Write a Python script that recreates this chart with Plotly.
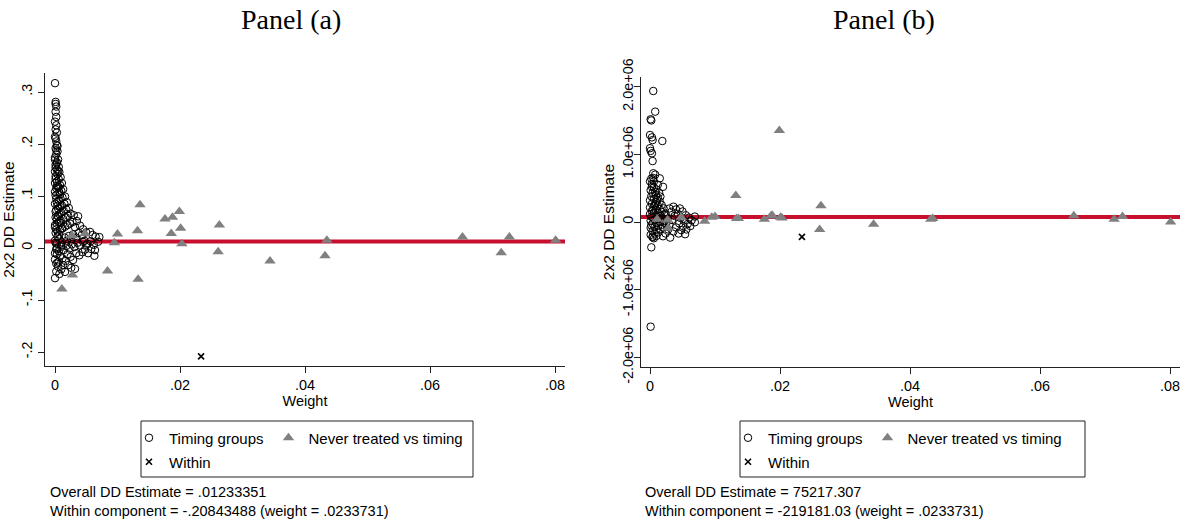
import plotly.graph_objects as go

# ---------------- data ----------------
# Panel (a): timing-group comparisons (weight, 2x2 estimate)
timing_w_a = [
    0.0000, 0.0001, 0.0001, 0.0002, 0.0001, 0.0002, 0.0000, 0.0002, 0.0001, 0.0003,
    0.0000, 0.0002, 0.0003, 0.0001, 0.0004, 0.0002, 0.0000, 0.0005, 0.0003, 0.0001,
    0.0006, 0.0003, 0.0000, 0.0007, 0.0004, 0.0001, 0.0009, 0.0006, 0.0003, 0.0000,
    0.0011, 0.0008, 0.0005, 0.0002, 0.0013, 0.0010, 0.0007, 0.0004, 0.0001, 0.0016,
    0.0012, 0.0009, 0.0006, 0.0003, 0.0000, 0.0019, 0.0015, 0.0011, 0.0008, 0.0005,
    0.0002, 0.0022, 0.0018, 0.0014, 0.0010, 0.0007, 0.0004, 0.0001, 0.0025, 0.0030,
    0.0037, 0.0035, 0.0021, 0.0017, 0.0013, 0.0009, 0.0006, 0.0003, 0.0000, 0.0028,
    0.0024, 0.0020, 0.0016, 0.0012, 0.0008, 0.0004, 0.0001, 0.0032, 0.0040, 0.0045,
    0.0050, 0.0056, 0.0060, 0.0065, 0.0071, 0.0069, 0.0043, 0.0038, 0.0034, 0.0029,
    0.0026, 0.0022, 0.0019, 0.0015, 0.0011, 0.0007, 0.0003, 0.0000, 0.0047, 0.0052,
    0.0057, 0.0062, 0.0045, 0.0050, 0.0040, 0.0036, 0.0031, 0.0027, 0.0023, 0.0018,
    0.0014, 0.0010, 0.0006, 0.0002, 0.0064, 0.0063, 0.0053, 0.0058, 0.0048, 0.0044,
    0.0039, 0.0034, 0.0029, 0.0032, 0.0025, 0.0020, 0.0016, 0.0017, 0.0012, 0.0008,
    0.0004, 0.0000, 0.0005, 0.0021, 0.0026, 0.0010, 0.0002, 0.0007, 0.0013, 0.0000,
    0.0003, 0.0001, 0.0003, 0.0000, 0.0002, 0.0004, 0.0001, 0.0003, 0.0000, 0.0002,
    0.0004, 0.0001, 0.0003, 0.0000, 0.0002, 0.0005, 0.0001, 0.0003, 0.0000, 0.0002,
    0.0004, 0.0001, 0.0006, 0.0008, 0.0005, 0.0009, 0.0007, 0.0011, 0.0006, 0.0010,
]
timing_est_a = [
    0.317, 0.281, 0.277, 0.272, 0.262, 0.252, 0.243, 0.236, 0.228, 0.222,
    0.214, 0.205, 0.198, 0.192, 0.186, 0.180, 0.174, 0.170, 0.165, 0.160,
    0.156, 0.151, 0.147, 0.146, 0.142, 0.138, 0.136, 0.132, 0.128, 0.125,
    0.125, 0.121, 0.118, 0.115, 0.113, 0.110, 0.107, 0.104, 0.101, 0.099,
    0.097, 0.094, 0.091, 0.088, 0.085, 0.088, 0.085, 0.082, 0.079, 0.076,
    0.073, 0.077, 0.074, 0.071, 0.068, 0.065, 0.062, 0.059, 0.066, 0.063,
    0.061, 0.052, 0.062, 0.059, 0.056, 0.053, 0.050, 0.047, 0.044, 0.050,
    0.047, 0.044, 0.041, 0.038, 0.035, 0.032, 0.029, 0.040, 0.043, 0.036,
    0.030, 0.031, 0.025, 0.022, 0.021, 0.012, 0.025, 0.029, 0.020, 0.026,
    0.017, 0.023, 0.014, 0.020, 0.011, 0.017, 0.008, 0.014, 0.014, 0.008,
    0.013, 0.006, 0.012, 0.006, 0.005, 0.010, 0.002, 0.007, -0.001, 0.004,
    -0.004, 0.002, -0.006, -0.002, -0.004, -0.015, -0.010, -0.002, -0.003, -0.008,
    -0.014, -0.010, -0.023, -0.040, -0.017, -0.012, -0.046, -0.025, -0.020, -0.015,
    -0.028, -0.058, -0.036, -0.033, -0.038, -0.041, -0.045, -0.050, -0.033, -0.022,
    -0.012, 0.133, 0.119, 0.108, 0.095, 0.081, 0.070, 0.055, 0.040, 0.036,
    0.022, 0.010, 0.000, -0.010, -0.030, 0.148, 0.155, 0.163, 0.170, 0.188,
    0.196, 0.211, 0.117, 0.103, 0.061, 0.048, 0.026, 0.037, -0.026, 0.005,
]

# Panel (b): timing-group comparisons (weight, 2x2 estimate)
timing_w_b = [
    0.0005, 0.0008, 0.0001, 0.0002, 0.0000, 0.0004, 0.0019, 0.0003, 0.0000, 0.0003,
    0.0004, 0.0001, 0.0005, 0.0008, 0.0015, 0.0020, 0.0016, 0.0012, 0.0002, 0.0006,
    0.0010, 0.0003, 0.0014, 0.0008, 0.0005,
    0.0000, 0.0003, 0.0006, 0.0001, 0.0004, 0.0009, 0.0002, 0.0012, 0.0006, 0.0000,
    0.0015, 0.0009, 0.0003, 0.0018, 0.0012, 0.0006, 0.0000, 0.0021, 0.0015, 0.0009,
    0.0003, 0.0018, 0.0012, 0.0006, 0.0000, 0.0022, 0.0016, 0.0010, 0.0004, 0.0019,
    0.0013, 0.0007, 0.0001, 0.0022, 0.0016, 0.0010, 0.0004, 0.0019, 0.0013, 0.0007,
    0.0001, 0.0016, 0.0010, 0.0004, 0.0013, 0.0007, 0.0001, 0.0010, 0.0004, 0.0006,
    0.0002, 0.0005, 0.0008, 0.0002, 0.0011, 0.0014, 0.0020, 0.0024, 0.0025, 0.0027,
    0.0030, 0.0036, 0.0040, 0.0046, 0.0033, 0.0050, 0.0043, 0.0055, 0.0038, 0.0060,
    0.0069, 0.0047, 0.0064, 0.0034, 0.0052, 0.0069, 0.0058, 0.0045, 0.0030, 0.0051,
    0.0062, 0.0040, 0.0056, 0.0028, 0.0048, 0.0054, 0.0044, 0.0036, 0.0031, 0.0024,
    0.0020, 0.0004, 0.0002, 0.0001,
]
timing_est_b = [
    1935000, 1630000, 1517000, 1500000, 1285000, 1210000, 1196000, 1250000, 1090000, 1015000,
    900000, 1050000, 720000, 700000, 645000, 520000, 375000, 550000, 640000, 600000,
    480000, 520000, 430000, 440000, 650000,
    600000, 560000, 510000, 470000, 430000, 400000, 380000, 360000, 340000, 320000,
    300000, 290000, 270000, 250000, 240000, 230000, 215000, 200000, 190000, 180000,
    165000, 150000, 140000, 130000, 115000, 100000, 95000, 85000, 70000, 55000,
    45000, 35000, 20000, 10000, 0, -10000, -25000, -40000, -55000, -70000,
    -85000, -100000, -115000, -130000, -150000, -170000, -190000, -205000, -215000, -240000,
    80000, 180000, 260000, -50000, 320000, 90000, -80000, 120000, -20000, 50000,
    200000, 226000, 185000, 200000, 150000, 155000, 120000, 100000, 90000, 65000,
    80000, 60000, 25000, 30000, 20000, -4000, -30000, -20000, -40000, -60000,
    -60000, -80000, -110000, -110000, -120000, -180000, -170000, -140000, -230000, -170000,
    -210000, -226000, -374000, -1546000,
]

# Never treated vs timing (same weights in both panels)
never_w = [
    0.0011, 0.0027, 0.0028, 0.0048, 0.0084, 0.0095, 0.0100, 0.0132, 0.0133, 0.0136,
    0.0176, 0.0186, 0.0188, 0.0199, 0.0201, 0.0203, 0.0261, 0.0263, 0.0344, 0.0432,
    0.0435, 0.0652, 0.0714, 0.0727, 0.0801,
]
never_est_a = [
    -0.079, 0.024, -0.052, 0.028, -0.044, 0.010, 0.027, 0.033, -0.060, 0.083,
    0.056, 0.028, 0.059, 0.070, 0.038, 0.008, -0.007, 0.044, -0.025, -0.015,
    0.015, 0.021, -0.009, 0.021, 0.015,
]
never_est_b = [
    40000, 30000, -90000, 70000, 10000, 70000, 80000, 390000, 50000, 50000,
    40000, 90000, 100000, 1350000, 70000, 60000, -110000, 240000, -35000, 40000,
    50000, 94000, 40000, 80000, 0,
]

# Within component and overall estimates
within_w = 0.0233731
within_est_a = -0.20843488
within_est_b = -219181.03
overall_a = 0.01233351
overall_b = 75217.307

# Tick labels
x_ticks = [0, 0.02, 0.04, 0.06, 0.08]
x_ticktext = ["0", ".02", ".04", ".06", ".08"]
ya_ticks = [-0.2, -0.1, 0, 0.1, 0.2, 0.3]
ya_ticktext = ["-.2", "-.1", "0", ".1", ".2", ".3"]
yb_ticks = [-2e6, -1e6, 0, 1e6, 2e6]
yb_ticktext = ["-2.0e+06", "-1.0e+06", "0", "1.0e+06", "2.0e+06"]

labels = ["Timing groups", "Never treated vs timing", "Within"]
panel_titles = ["Panel (a)", "Panel (b)"]


def sfmt(v):
    s = repr(v)
    if s.startswith("0."):
        s = s[1:]
    elif s.startswith("-0."):
        s = "-" + s[2:]
    return s


# ---------------- figure ----------------
W, H = 1182, 520
SANS = "Liberation Sans, Arial, sans-serif"
SERIF = "Liberation Serif, Times New Roman, serif"
RED = "#C8102E"
GRAY = "#808080"


def px_x(p):
    return p / W


def px_y(p):
    return 1 - p / H


fig = go.Figure()

panels = [
    dict(xa="x", ya="y", tw=timing_w_a, te=timing_est_a, ne=never_est_a, we=within_est_a,
         lg1="legend", lg2="legend2"),
    dict(xa="x2", ya="y2", tw=timing_w_b, te=timing_est_b, ne=never_est_b, we=within_est_b,
         lg1="legend3", lg2="legend4"),
]

for p in panels:
    fig.add_trace(go.Scatter(
        x=p["tw"], y=p["te"], mode="markers", name=labels[0],
        xaxis=p["xa"], yaxis=p["ya"], legend=p["lg1"], showlegend=True,
        marker=dict(symbol="circle-open", size=7.5, color="black", line=dict(width=1, color="black")),
    ))
    fig.add_trace(go.Scatter(
        x=never_w, y=p["ne"], mode="markers", name=labels[1],
        xaxis=p["xa"], yaxis=p["ya"], legend=p["lg1"], showlegend=True,
        marker=dict(symbol="triangle-up", size=10, color=GRAY, line=dict(width=0)),
    ))
    fig.add_trace(go.Scatter(
        x=[within_w], y=[p["we"]], mode="markers", name=labels[2],
        xaxis=p["xa"], yaxis=p["ya"], legend=p["lg2"], showlegend=True,
        marker=dict(symbol="x-thin", size=6, color="black", line=dict(width=1.6, color="black")),
    ))

axis_common = dict(
    showline=True, linecolor="#222", linewidth=1, mirror=False, automargin=False,
    showgrid=False, zeroline=False, ticks="outside", ticklen=6, tickcolor="#222",
    tickfont=dict(family=SANS, size=14.4, color="black"),
)

fig.update_layout(
    width=W, height=H,
    margin=dict(l=0, r=0, t=0, b=0, pad=0, autoexpand=False),
    plot_bgcolor="white", paper_bgcolor="white",
    xaxis=dict(domain=[px_x(45), px_x(565)], range=[-0.0016, 0.0816],
               tickvals=x_ticks, ticktext=x_ticktext, anchor="y",
               title=dict(text="Weight", font=dict(family=SANS, size=14.5, color="black"), standoff=3),
               **axis_common),
    yaxis=dict(domain=[px_y(366), px_y(73)], range=[-0.22692, 0.33654],
               tickvals=ya_ticks, ticktext=ya_ticktext, tickangle=-90, anchor="x",
               title=dict(text="2x2 DD Estimate", font=dict(family=SANS, size=15.5, color="black"), standoff=3),
               **axis_common),
    xaxis2=dict(domain=[px_x(641), px_x(1180)], range=[-0.001385, 0.081538],
                tickvals=x_ticks, ticktext=x_ticktext, anchor="y2",
                title=dict(text="Weight", font=dict(family=SANS, size=14.5, color="black"), standoff=3),
                **axis_common),
    yaxis2=dict(domain=[px_y(367), px_y(77)], range=[-2.1418e6, 2.1418e6],
                tickvals=yb_ticks, ticktext=yb_ticktext, tickangle=-90, anchor="x2",
                ticklabelstandoff=-5,
                title=dict(text="2x2 DD Estimate", font=dict(family=SANS, size=15.5, color="black"), standoff=1),
                **axis_common),
)

# overall estimate lines
for ov, xa, ya in [(overall_a, "x", "y"), (overall_b, "x2", "y2")]:
    fig.add_shape(type="line", xref=f"{xa} domain", yref=ya, x0=0, x1=1, y0=ov, y1=ov,
                  line=dict(color=RED, width=4), layer="below")

# legends
leg_font = dict(family=SANS, size=15, color="black")
leg_common = dict(orientation="h", xanchor="left", yanchor="middle", bgcolor="rgba(0,0,0,0)",
                  borderwidth=0, font=leg_font, itemclick=False, itemdoubleclick=False)
fig.update_layout(
    legend=dict(x=px_x(129), y=px_y(438), **leg_common),
    legend2=dict(x=px_x(129), y=px_y(462), **leg_common),
    legend3=dict(x=px_x(728), y=px_y(438), **leg_common),
    legend4=dict(x=px_x(728), y=px_y(462), **leg_common),
)
for x0, x1 in [(141, 473), (740, 1085)]:
    fig.add_shape(type="rect", xref="paper", yref="paper",
                  x0=px_x(x0), x1=px_x(x1), y0=px_y(477), y1=px_y(421),
                  line=dict(color="#222", width=1), fillcolor="rgba(0,0,0,0)")

# panel titles
for txt, cx in zip(panel_titles, [291, 884]):
    fig.add_annotation(text=txt, xref="paper", yref="paper", x=px_x(cx), y=px_y(20),
                       xanchor="center", yanchor="middle", showarrow=False,
                       font=dict(family=SERIF, size=28, color="black"))

# notes
note_font = dict(family=SANS, size=14.5, color="black")
notes = [
    (48, overall_a, within_est_a),
    (643, overall_b, within_est_b),
]
for nx, ov, we in notes:
    fig.add_annotation(
        text=f"Overall DD Estimate = {sfmt(ov)}<br>Within component = {sfmt(we)} (weight = {sfmt(within_w)})",
        xref="paper", yref="paper", x=px_x(nx), y=px_y(501), xanchor="left", yanchor="middle",
        align="left", showarrow=False, font=note_font)

fig.write_html(
    "out.html",
    config={"displayModeBar": False, "staticPlot": True},
    post_script="document.body.style.margin='0';document.body.style.overflow='hidden';",
)
